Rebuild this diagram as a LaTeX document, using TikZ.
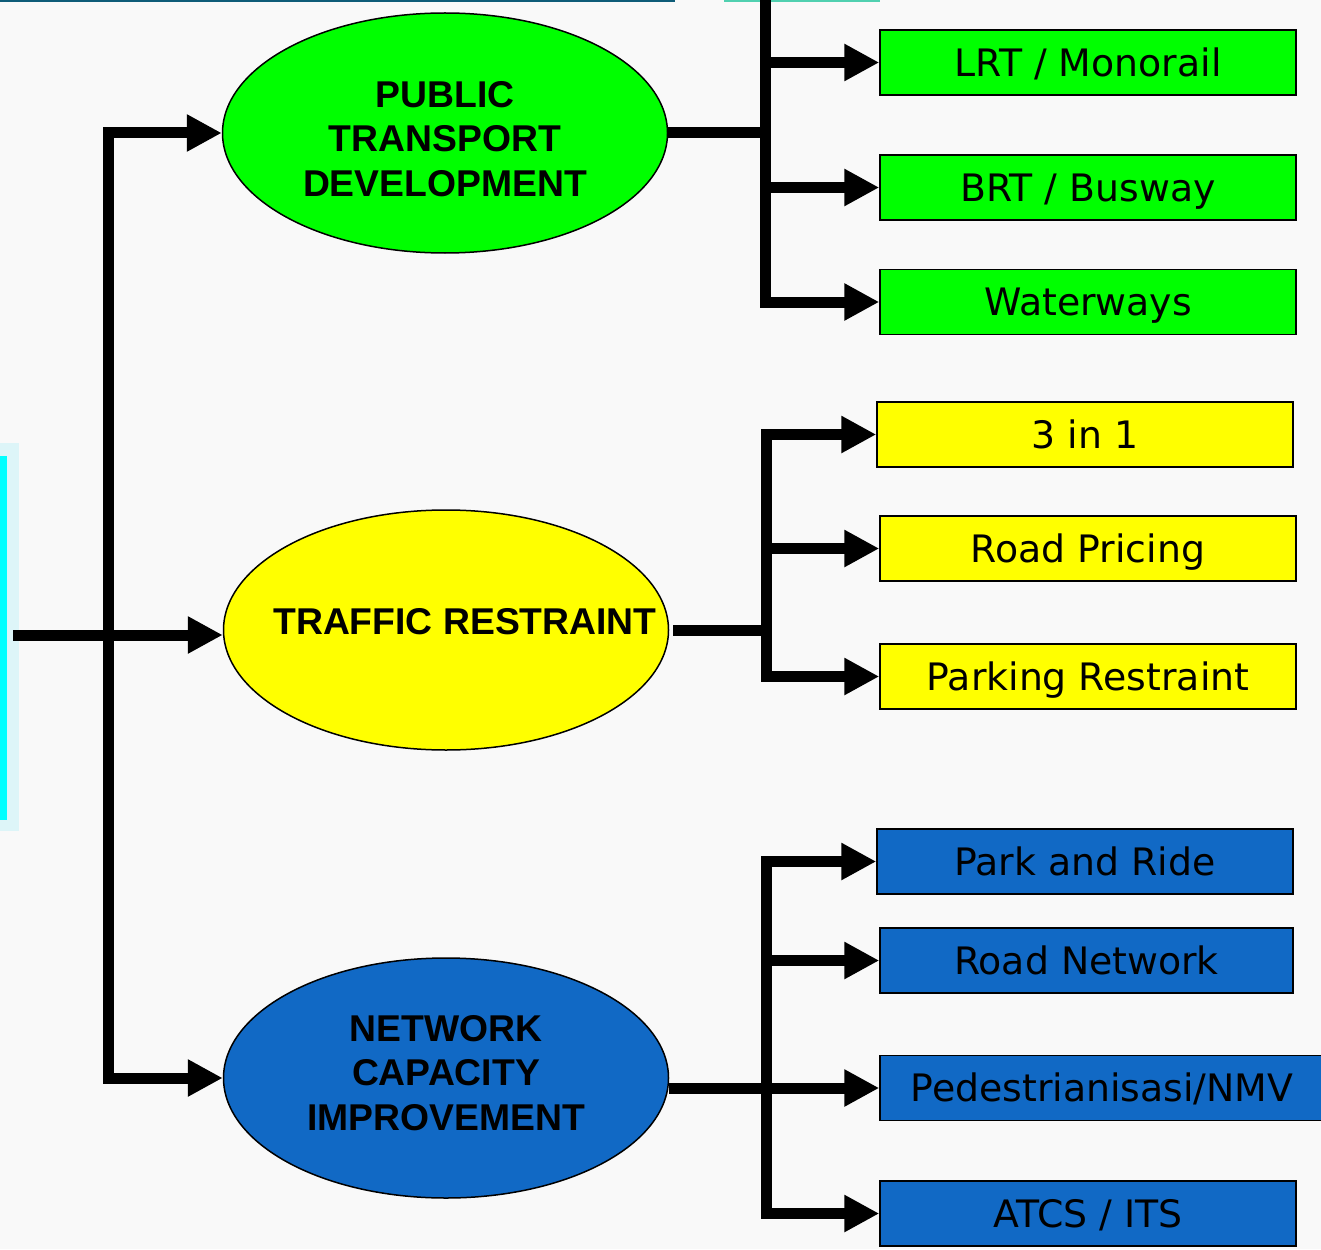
\documentclass[tikz,border=0pt]{standalone}
\usepackage{fontspec}
\setmainfont{DejaVu Sans}
\newfontfamily\headfont{Liberation Sans}
\usetikzlibrary{arrows.meta,shapes.geometric}

\definecolor{bg}{HTML}{F9F9F9}
\definecolor{ptgreen}{HTML}{00FF00}
\definecolor{tryellow}{HTML}{FFFF00}
\definecolor{ncblue}{HTML}{1169C5}
\definecolor{rulecol}{HTML}{0E5C78}
\definecolor{topbit}{HTML}{50D0B0}
\definecolor{srcouter}{HTML}{DDF5F8}
\definecolor{srcinner}{HTML}{00FFFF}

\tikzset{
  oval/.style={ellipse, draw=black, line width=1.5pt, minimum width=445pt,
    minimum height=240pt, inner sep=0pt},
  ovaltext/.style={align=center, inner sep=0pt,
    font=\headfont\bfseries\fontsize{37.3}{44.5}\selectfont},
  leaf/.style={rectangle, draw=black, line width=1.5pt, minimum width=416pt,
    minimum height=65pt, inner sep=0pt, text height=27.5pt, text depth=0pt,
    font=\fontsize{37.8}{43}\selectfont},
  bar/.style={line width=11pt, line join=miter},
  link/.style={bar, -{Triangle[length=35pt,width=35pt]}},
  twolink/.style={bar, {Triangle[length=35pt,width=35pt]}-{Triangle[length=35pt,width=35pt]}},
}

\begin{document}
\begin{tikzpicture}[x=1pt,y=-1pt]
\useasboundingbox (0,0) rectangle (1321,1249);
\fill[bg] (0,0) rectangle (1321,1249);

% frame fragments at the edges
\draw[rulecol, line width=2.5pt] (0,1) -- (675,1);
\fill[topbit] (724,0) rectangle (880,2);
\node[rectangle, fill=srcouter, minimum width=19pt, minimum height=388pt, inner sep=0pt] (src) at (9.5,637) {};
\fill[srcinner] (0,456) rectangle (7,820);

% spine positions
\coordinate (tk) at (108,0);
\coordinate (gs) at (765,0);
\coordinate (ys) at (766,0);
\coordinate (bs) at (766,0);
\coordinate (in) at (13,635);

% main strategies
\node[oval, fill=ptgreen, label={[ovaltext, yshift=-6pt]center:PUBLIC\\TRANSPORT\\DEVELOPMENT}] (pt) at (445,133) {};
\node[oval, fill=tryellow, label={[ovaltext, xshift=19pt, yshift=8pt]center:TRAFFIC RESTRAINT}] (tr) at (446,630) {};
\node[oval, fill=ncblue, label={[ovaltext, yshift=5pt]center:NETWORK\\CAPACITY\\IMPROVEMENT}] (nc) at (446,1078) {};

% public transport measures
\node[leaf, fill=ptgreen] (lrt) at (1088,62.5) {LRT / Monorail};
\node[leaf, fill=ptgreen] (brt) at (1088,187.5) {BRT / Busway};
\node[leaf, fill=ptgreen] (wat) at (1088,302) {Waterways};

% traffic restraint measures
\node[leaf, fill=tryellow] (t31) at (1085,434.5) {3 in 1};
\node[leaf, fill=tryellow] (rp) at (1088,548.5) {Road Pricing};
\node[leaf, fill=tryellow] (prk) at (1088,676.5) {Parking Restraint};

% network capacity measures
\node[leaf, fill=ncblue] (pr) at (1085,861.5) {Park and Ride};
\node[leaf, fill=ncblue, minimum width=413pt] (rn) at (1086.5,960.5) {Road Network};
\node[leaf, fill=ncblue, minimum width=444pt] (ped) at (1102,1088) {Pedestrianisasi/NMV};
\node[leaf, fill=ncblue] (atc) at (1088,1213.5) {ATCS / ITS};

% main trunk
\draw[twolink] (nc.west) -- (tk |- nc.west) -- (tk |- pt.west) -- (pt.west);
\draw[link] (in) -- (tr.west |- in);

% public transport branch
\draw[bar] (pt.east) -- (gs |- pt.east);
\draw[link] (gs) -- (gs |- wat.west) -- (wat.west);
\draw[link] (gs |- lrt.west) -- (lrt.west);
\draw[link] (gs |- brt.west) -- (brt.west);

% traffic restraint branch
\draw[bar] ([xshift=4pt]tr.east) -- (ys |- tr.east);
\draw[twolink] (t31.west) -- (ys |- t31.west) -- (ys |- prk.west) -- (prk.west);
\draw[link] (ys |- rp.west) -- (rp.west);

% network capacity branch
\draw[twolink] (pr.west) -- (bs |- pr.west) -- (bs |- atc.west) -- (atc.west);
\draw[link] (bs |- rn.west) -- (rn.west);
\draw[link] (nc.east |- ped.west) -- (ped.west);
\end{tikzpicture}
\end{document}
